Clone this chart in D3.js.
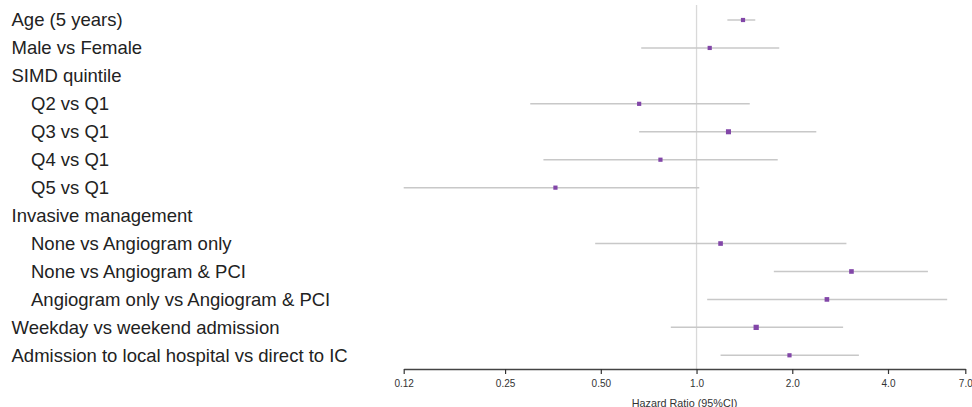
<!DOCTYPE html>
<html>
<head>
<meta charset="utf-8">
<script src="https://cdn.jsdelivr.net/npm/d3@7"></script>
<style>
  body { margin: 0; background: #fff; }
  svg { display: block; font-family: "Liberation Sans", Arial, sans-serif; }
</style>
</head>
<body>
<div id="chart-region"></div>
<script>
// rows of the forest plot, top to bottom (null = header row, no estimate)
const labels = [
  "Age (5 years)", "Male vs Female", "SIMD quintile",
  "Q2 vs Q1", "Q3 vs Q1", "Q4 vs Q1", "Q5 vs Q1",
  "Invasive management",
  "None vs Angiogram only", "None vs Angiogram & PCI", "Angiogram only vs Angiogram & PCI",
  "Weekday vs weekend admission", "Admission to local hospital vs direct to IC"
];
const indented = [false, false, false, true, true, true, true, false, true, true, true, false, false];
const hr    = [1.40, 1.10, null, 0.66, 1.26, 0.77, 0.36, null, 1.19, 3.07, 2.57, 1.54, 1.96];
const lower = [1.25, 0.67, null, 0.30, 0.66, 0.33, 0.12, null, 0.48, 1.75, 1.08, 0.83, 1.19];
const upper = [1.53, 1.82, null, 1.47, 2.38, 1.80, 1.02, null, 2.96, 5.34, 6.14, 2.89, 3.24];
const weights = [1, 1, null, 1, 1.2, 1, 1, null, 1.1, 1.1, 1.1, 1.25, 1];
const tickValues = [0.12, 0.25, 0.5, 1.0, 2.0, 4.0, 7.0];
const tickLabels = ["0.12", "0.25", "0.50", "1.0", "2.0", "4.0", "7.0"];

const width = 972, height = 407;

const svg = d3.select("#chart-region")
  .append("svg")
  .attr("width", width)
  .attr("height", height);

const rows = labels.map((label, i) => ({
  label, indent: indented[i], hr: hr[i], lo: lower[i], hi: upper[i], w: weights[i], i
}));

/* -------------------- SCALES -------------------- */

const x = d3.scaleLog()
  .domain([0.12, 7.0])
  .range([403.7, 965.3]);

const y = d3.scalePoint()
  .domain(d3.range(rows.length))
  .range([20, 355.3]);

const axisY = 369;

/* -------------------- REFERENCE LINE -------------------- */

svg.append("line")
  .attr("x1", x(1)).attr("x2", x(1))
  .attr("y1", 5).attr("y2", axisY)
  .attr("stroke", "#d9d9d9")
  .attr("stroke-width", 1.3);

/* -------------------- LABELS -------------------- */

svg.append("g")
  .selectAll("text")
  .data(rows)
  .join("text")
  .attr("x", d => d.indent ? 31 : 11.5)
  .attr("y", d => y(d.i))
  .attr("dy", "0.35em")
  .attr("font-size", 18.5)
  .attr("fill", "#222")
  .text(d => d.label);

/* -------------------- CI + POINTS -------------------- */

const est = rows.filter(d => d.hr != null);

svg.append("g")
  .selectAll("line")
  .data(est)
  .join("line")
  .attr("x1", d => x(d.lo))
  .attr("x2", d => x(d.hi))
  .attr("y1", d => y(d.i))
  .attr("y2", d => y(d.i))
  .attr("stroke", "#c8c8c8")
  .attr("stroke-width", 1.5);

svg.append("g")
  .selectAll("rect")
  .data(est)
  .join("rect")
  .attr("x", d => x(d.hr) - 2.1 * d.w)
  .attr("y", d => y(d.i) - 2.1 * d.w)
  .attr("width", d => 4.2 * d.w)
  .attr("height", d => 4.2 * d.w)
  .attr("fill", "#8246a8");

/* -------------------- AXIS -------------------- */

const axis = svg.append("g")
  .attr("transform", `translate(0, ${axisY})`)
  .call(d3.axisBottom(x)
    .tickValues(tickValues)
    .tickFormat((d, i) => tickLabels[i])
    .tickSize(5)
    .tickSizeOuter(0)
    .tickPadding(6));

axis.select(".domain").attr("stroke", "#444").attr("stroke-width", 1.5);
axis.selectAll(".tick line").attr("stroke", "#333").attr("stroke-width", 1.2);
axis.selectAll(".tick text")
  .attr("font-family", "\"Liberation Sans\", Arial, sans-serif")
  .attr("font-size", 10)
  .attr("fill", "#333");

svg.append("text")
  .attr("x", (x.range()[0] + x.range()[1]) / 2)
  .attr("y", 406.5)
  .attr("text-anchor", "middle")
  .attr("font-size", 10.8)
  .attr("fill", "#333")
  .text("Hazard Ratio (95%CI)");
</script>
</body>
</html>
